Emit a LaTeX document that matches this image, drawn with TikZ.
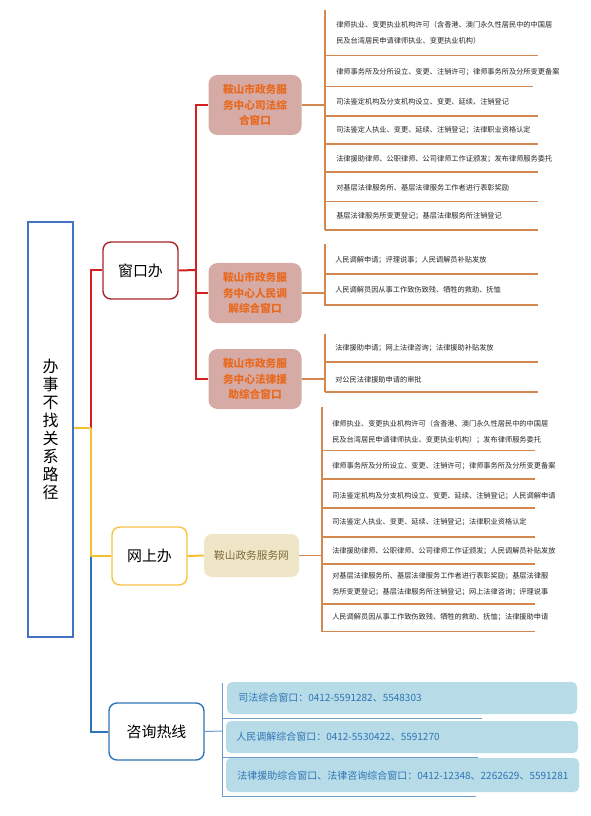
\documentclass[tikz,border=0pt]{standalone}
\usepackage{fontspec}
\setmainfont{Noto Sans CJK SC}
\newdimen\pxu \pxu=0.75pt
\definecolor{rootblue}{HTML}{4472C4}
\definecolor{redline}{HTML}{D42020}
\definecolor{redborder}{HTML}{A8262B}
\definecolor{yellowline}{HTML}{F4C030}
\definecolor{yellowborder}{HTML}{F6C443}
\definecolor{blueline}{HTML}{2E75B6}
\definecolor{orangeline}{HTML}{D4884F}
\definecolor{pinkfill}{HTML}{D6ABA5}
\definecolor{orangetext}{HTML}{E8691F}
\definecolor{beigefill}{HTML}{EFE6C8}
\definecolor{beigetext}{HTML}{7D6B3A}
\definecolor{bluefill}{HTML}{B7DCE8}
\definecolor{bluetext}{HTML}{2F74B5}
\definecolor{thinblue}{HTML}{6B9BC6}
\begin{document}
\begin{tikzpicture}[x=0.75pt,y=-0.75pt,
  rootbox/.style={draw=rootblue,line width=1.5\pxu,minimum width=45\pxu,minimum height=415\pxu,inner sep=0pt,align=center,font=\fontsize{12pt}{13.5pt}\selectfont},
  lvlbox/.style={rounded corners=8\pxu,fill=white,line width=1.4\pxu,minimum width=75\pxu,minimum height=57\pxu,inner sep=0pt,font=\fontsize{11.2pt}{13pt}\selectfont},
  pinkbox/.style={rounded corners=9\pxu,fill=pinkfill,text=orangetext,minimum width=93\pxu,minimum height=60\pxu,inner sep=0pt,align=center,font=\fontsize{8pt}{11.75pt}\selectfont\bfseries},
  beigebox/.style={rounded corners=8\pxu,fill=beigefill,text=beigetext,minimum width=95\pxu,minimum height=43\pxu,inner sep=0pt,font=\fontsize{8pt}{10pt}\selectfont},
  bluebox/.style={rounded corners=5\pxu,fill=bluefill,minimum height=32\pxu,inner sep=0pt},
  bluetxt/.style={anchor=west,inner sep=0pt,text=bluetext,font=\fontsize{7.5pt}{9pt}\selectfont},
  item/.style={anchor=west,inner sep=0pt,align=left,text=black!85,font=\fontsize{5.4pt}{12pt}\selectfont},
  oline/.style={draw=orangeline,line width=1.1\pxu},
  tline/.style={draw=thinblue,line width=1\pxu}
]
\fill[white] (0,0) rectangle (591,816);
\useasboundingbox (0,0) rectangle (591,816);

% root
\node[rootbox] (root) at (50.5,429.5) {办\\事\\不\\找\\关\\系\\路\\径};
\coordinate (J) at (91,428);

% level 1
\node[lvlbox,draw=redborder] (win) at (140.5,270.5) {窗口办};
\node[lvlbox,draw=yellowborder,minimum height=58\pxu] (net) at (149.5,556) {网上办};
\node[lvlbox,draw=blueline,minimum width=95\pxu] (hot) at (156.5,731.5) {咨询热线};

\draw[blueline,line width=2\pxu] (J) |- (hot.west);
\draw[redline,line width=2\pxu] (J) |- (win.west);
\draw[yellowline,line width=2\pxu] (J) |- (net.west);
\draw[yellowline,line width=2\pxu] (root.east |- J) -- (J);

% window branch
\node[pinkbox] (a1) at (255,105) {鞍山市政务服\\务中心司法综\\合窗口};
\node[pinkbox] (a2) at (255,293) {鞍山市政务服\\务中心人民调\\解综合窗口};
\node[pinkbox] (a3) at (255,379) {鞍山市政务服\\务中心法律援\\助综合窗口};
\coordinate (W) at (196,270);
\draw[redline,line width=2\pxu] (win.east) -- (W);
\draw[redline,line width=2\pxu] (W) |- (a1.west);
\draw[redline,line width=2\pxu] (W) |- (a3.west);
\draw[redline,line width=2\pxu] (W |- a2.west) -- (a2.west);

% group 1
\coordinate (g1) at (325,105);
\draw[oline] (a1.east) -- (g1);
\draw[oline] (325,10) -- (325,230);
\node[item] (i11) at (336,33) {律师执业、变更执业机构许可（含香港、澳门永久性居民中的中国居\\民及台湾居民申请律师执业、变更执业机构）};
\node[item] (i12) at (336,71.7) {律师事务所及分所设立、变更、注销许可；律师事务所及分所变更备案};
\node[item] (i13) at (336,101.7) {司法鉴定机构及分支机构设立、变更、延续、注销登记};
\node[item] (i14) at (336,130) {司法鉴定人执业、变更、延续、注销登记；法律职业资格认定};
\node[item] (i15) at (336,159) {法律援助律师、公职律师、公司律师工作证颁发；发布律师服务委托};
\node[item] (i16) at (336,187.7) {对基层法律服务所、基层法律服务工作者进行表彰奖励};
\node[item] (i17) at (336,215.7) {基层法律服务所变更登记；基层法律服务所注销登记};
\foreach \y/\e in {55.7/538,86.7/533,116/538,144/538,172/538,201.7/538,230/538}
  \draw[oline] (325,\y) -- (\e,\y);

% group 2
\coordinate (g2) at (325,293);
\draw[oline] (a2.east) -- (g2);
\draw[oline] (325,244) -- (325,306);
\node[item] (i21) at (335,260) {人民调解申请；评理说事；人民调解员补贴发放};
\node[item] (i22) at (335,290) {人民调解员因从事工作致伤致残、牺牲的救助、抚恤};
\foreach \y in {274,305}
  \draw[oline] (325,\y) -- (538,\y);

% group 3
\coordinate (g3) at (325,379);
\draw[oline] (a3.east) -- (g3);
\draw[oline] (325,334) -- (325,392);
\node[item] (i31) at (335,348) {法律援助申请；网上法律咨询；法律援助补贴发放};
\node[item] (i32) at (335,380) {对公民法律援助申请的审批};
\foreach \y in {362,392}
  \draw[oline] (325,\y) -- (538,\y);

% net branch
\node[beigebox] (b1) at (251.5,555.5) {鞍山政务服务网};
\draw[yellowline,line width=2\pxu] (net.east) -- (b1.west);
\coordinate (g4) at (322,555.5);
\draw[oline] (b1.east) -- (g4);
\draw[oline] (322,407) -- (322,632);
\node[item] (i41) at (332,432) {律师执业、变更执业机构许可（含香港、澳门永久性居民中的中国居\\民及台湾居民申请律师执业、变更执业机构）；发布律师服务委托};
\node[item] (i42) at (332,465.7) {律师事务所及分所设立、变更、注销许可；律师事务所及分所变更备案};
\node[item] (i43) at (332,495.7) {司法鉴定机构及分支机构设立、变更、延续、注销登记；人民调解申请};
\node[item] (i44) at (332,522) {司法鉴定人执业、变更、延续、注销登记；法律职业资格认定};
\node[item] (i45) at (332,550.7) {法律援助律师、公职律师、公司律师工作证颁发；人民调解员补贴发放};
\node[item] (i46) at (332,584.5) {对基层法律服务所、基层法律服务工作者进行表彰奖励；基层法律服\\务所变更登记；基层法律服务所注销登记；网上法律咨询；评理说事};
\node[item] (i47) at (332,616.7) {人民调解员因从事工作致伤致残、牺牲的救助、抚恤；法律援助申请};
\foreach \y in {450.7,479,508,537,564,604,631.7}
  \draw[oline] (322,\y) -- (535,\y);

% hotline branch
\node[bluebox,minimum width=350\pxu] (c1) at (402,698) {};
\node[bluebox,minimum width=352\pxu] (c2) at (402,737) {};
\node[bluebox,minimum width=353\pxu,minimum height=34\pxu] (c3) at (402.5,775) {};
\node[bluetxt] (t1) at (238,698) {司法综合窗口：0412-5591282、5548303};
\node[bluetxt] (t2) at (236,737) {人民调解综合窗口：0412-5530422、5591270};
\node[bluetxt] (t3) at (237,776) {法律援助综合窗口、法律咨询综合窗口：0412-12348、2262629、5591281};
\coordinate (g5) at (222,731);
\draw[tline] (hot.east) -- (g5);
\draw[tline] (222,683) -- (222,796);
\draw[tline] (222,718) -- (482,718);
\draw[tline] (222,757) -- (478,757);
\draw[tline] (222,796) -- (476,796);
\end{tikzpicture}
\end{document}
